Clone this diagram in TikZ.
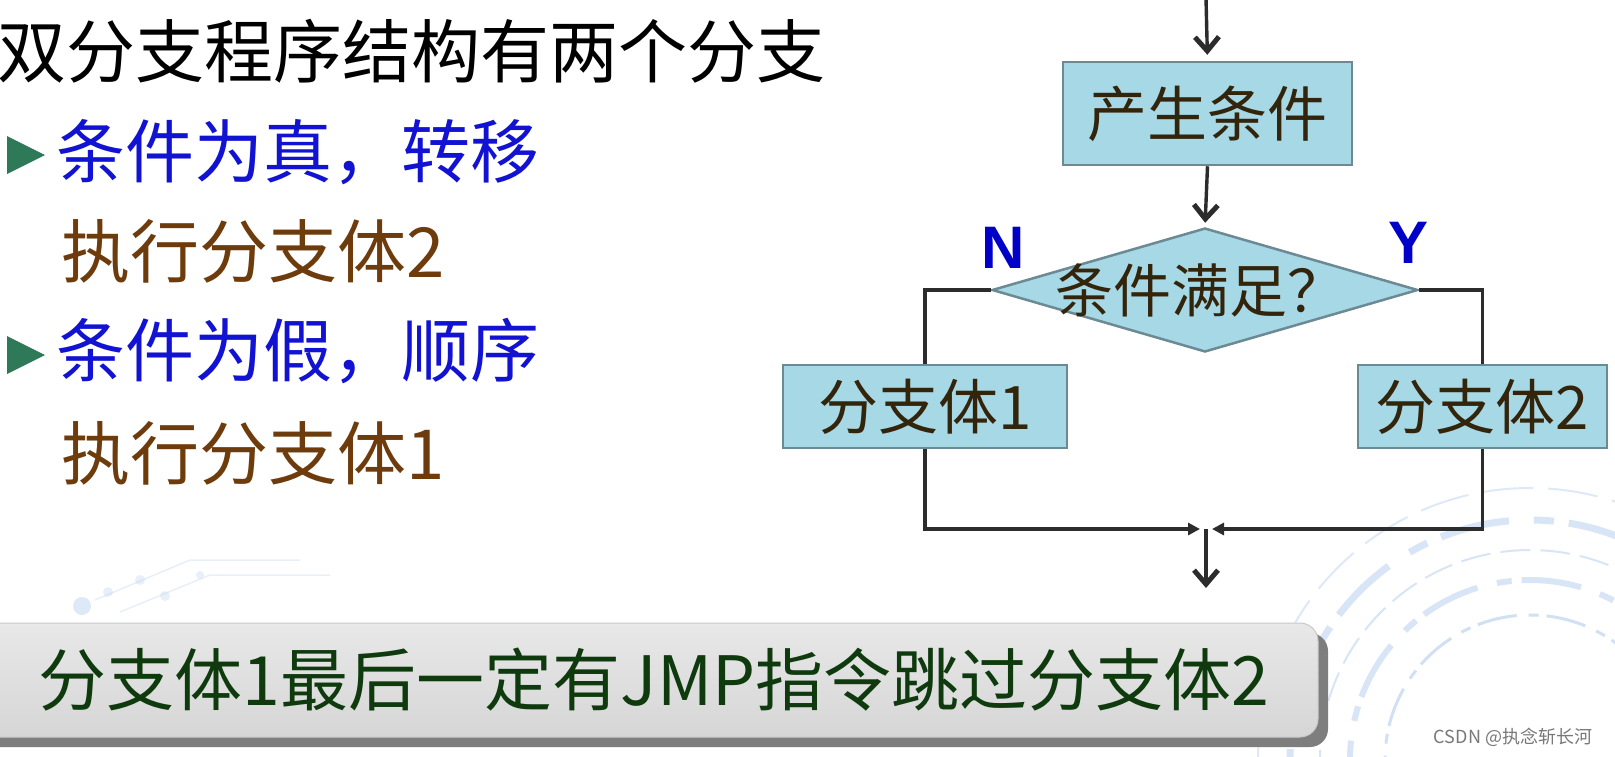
\documentclass[tikz,border=0pt]{standalone}
\usepackage{fontspec}
\setmainfont{Noto Sans CJK SC}
\newfontfamily\lsans{Liberation Sans}
\usetikzlibrary{arrows.meta,shapes.geometric}
\newcommand\fsz[1]{\fontsize{#1}{#1}\selectfont}
\definecolor{boxfill}{HTML}{A7D8E6}
\definecolor{boxline}{HTML}{6B8A94}
\definecolor{flowtxt}{HTML}{33240C}
\definecolor{bluetxt}{HTML}{1212D2}
\definecolor{browntxt}{HTML}{6E3C0C}
\definecolor{bulletgreen}{HTML}{2E7A58}
\definecolor{greentxt}{HTML}{0E3A0E}
\definecolor{linegray}{HTML}{2C2C2C}
\definecolor{wmblue}{HTML}{BFD4F0}
\definecolor{shadowgray}{HTML}{7E7E7E}
\tikzset{
  flowbox/.style={draw=boxline, fill=boxfill, line width=2.5pt, inner sep=0pt,
    font=\fsz{60}, text=flowtxt},
  conn/.style={draw=linegray, line width=3.4pt},
  barb/.style={-{Straight Barb[length=14pt,width=24pt,line width=5pt]}},
  tri/.style={-{Triangle[length=12pt,width=12pt]}},
  lefttxt/.style={anchor=west, inner sep=0pt, font=\fsz{69}},
  yn/.style={inner sep=0pt, font=\lsans\bfseries\fsz{60}, text={rgb,255:red,0;green,0;blue,200}},
  bullet/.style={fill=bulletgreen, draw=none},
}
\begin{document}
\begin{tikzpicture}[x=1pt,y=-1pt]
\useasboundingbox (0,0) rectangle (1615,756);
\fill[white] (0,0) rectangle (1615,756);
% faint watermark decoration
\begin{scope}
\clip (0,0) rectangle (1615,756);
\draw[wmblue, opacity=0.7, line width=3pt, dash pattern=on 40pt off 12pt on 10pt off 8pt] (1530,760) circle (145);
\draw[wmblue, opacity=0.6, line width=6pt, dash pattern=on 60pt off 20pt on 15pt off 10pt] (1530,760) circle (180);
\draw[wmblue, opacity=0.6, line width=2pt, dash pattern=on 30pt off 10pt] (1530,760) circle (210);
\draw[wmblue, opacity=0.6, line width=7pt, dash pattern=on 70pt off 25pt on 20pt off 15pt] (1530,760) circle (240);
\draw[wmblue, opacity=0.5, line width=2pt, dash pattern=on 50pt off 15pt] (1530,760) circle (272);
\fill[wmblue, opacity=0.5] (82,606) circle (9);
\fill[wmblue, opacity=0.35] (108,592) circle (5) (140,580) circle (5) (165,596) circle (5) (200,575) circle (4);
\draw[wmblue, opacity=0.35, line width=1.5pt] (95,600) -- (190,560) -- (300,560) (120,612) -- (210,575) -- (330,575);
\end{scope}
% left texts
\node[lefttxt, text=black] (head) at (-3,51) {双分支程序结构有两个分支};
\fill[bullet] (7,136) -- (45,155) -- (7,174) -- cycle;
\node[lefttxt, text=bluetxt] (l1) at (56,152) {条件为真，转移};
\node[lefttxt, text=browntxt] (l2) at (61,251) {执行分支体2};
\fill[bullet] (7,336) -- (45,355) -- (7,374) -- cycle;
\node[lefttxt, text=bluetxt] (l3) at (56,351) {条件为假，顺序};
\node[lefttxt, text=browntxt] (l4) at (61,453) {执行分支体1};
% flowchart
\coordinate (top) at (1206,-2);
\node[flowbox, minimum width=289pt, minimum height=103pt] (prod) at (1207.5,113.5) {产生条件};
\node[diamond, draw=boxline, fill=boxfill, line width=2.5pt, inner sep=0pt,
      minimum width=426pt, minimum height=124pt] (cond) at (1205,290) {};
\node[inner sep=0pt, font=\fsz{58}, text=flowtxt] (condtxt) at (1200,290) {条件满足？};
\node[flowbox, minimum width=284pt, minimum height=83pt] (b1) at (925,406.5) {分支体1};
\node[flowbox, minimum width=249pt, minimum height=83pt] (b2) at (1482.5,406.5) {分支体2};
\node[yn] (nlab) at (1003,248) {N};
\node[yn] (ylab) at (1408,243) {Y};
\coordinate (join) at (1206,529);
\coordinate (joinl) at (1200,529);
\coordinate (joinr) at (1212,529);
\coordinate (out) at (1206,588);
\draw[conn, barb, shorten >=6pt] (top) -- (prod.north);
\draw[conn, barb, shorten >=4pt] (prod.south) -- (cond.north);
\draw[conn] (cond.west) -| (b1.north);
\draw[conn] (cond.east) -| (b2.north);
\draw[conn, tri] (b1.south) |- (joinl);
\draw[conn, tri] (b2.south) |- (joinr);
\draw[conn, barb] (join) -- (out);
% banner
\fill[shadowgray, rounded corners=18pt] (-20,633) rectangle (1328,747);
\node[draw={rgb,255:red,200;green,200;blue,200}, line width=1pt, rounded corners=18pt,
      top color={rgb,255:red,232;green,232;blue,232}, bottom color={rgb,255:red,214;green,214;blue,214},
      minimum width=1338pt, minimum height=114pt, inner sep=0pt] (banner) at (649,680) {};
\node[inner sep=0pt, font=\fsz{68}, text=greentxt] (msg) at (654,680) {分支体1最后一定有JMP指令跳过分支体2};
% watermark text
\node[inner sep=0pt, font=\fsz{18}, text={rgb,255:red,120;green,120;blue,120}] (wm) at (1513,737) {CSDN @执念斩长河};
\end{tikzpicture}
\end{document}
